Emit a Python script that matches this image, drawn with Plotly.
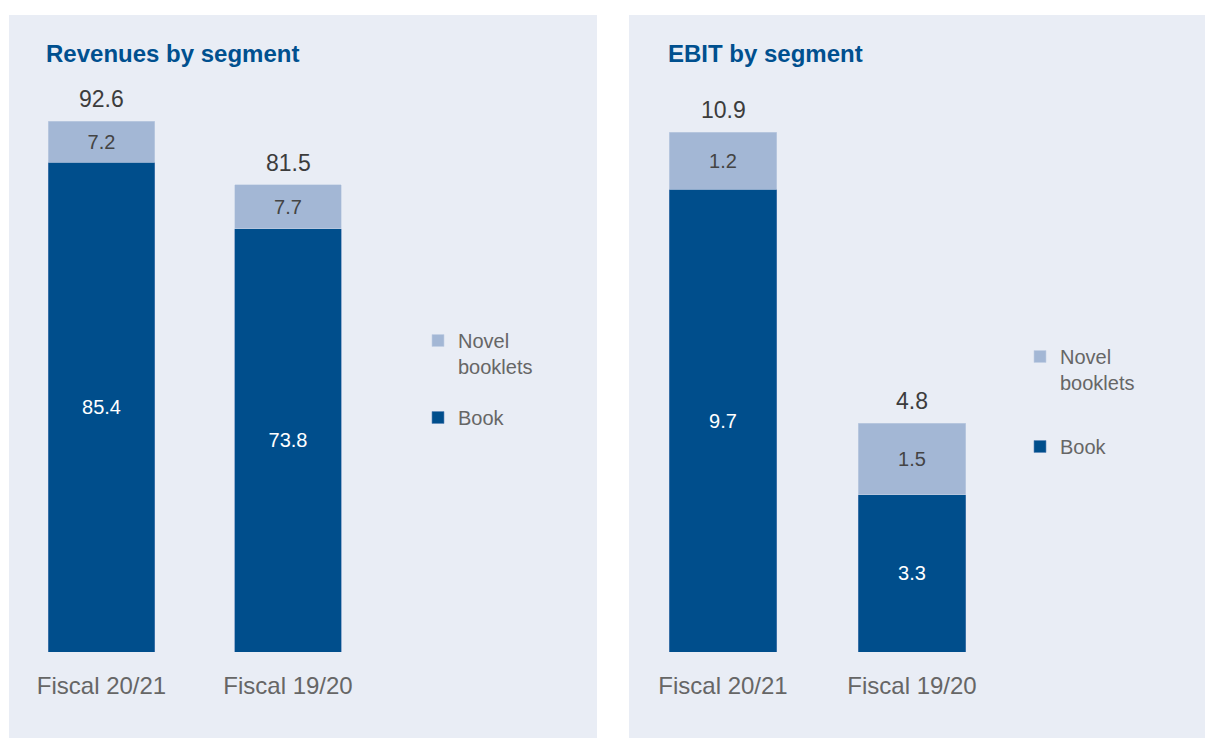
import plotly.graph_objects as go

categories = ["Fiscal 20/21", "Fiscal 19/20"]
rev_book = [85.4, 73.8]
rev_novel = [7.2, 7.7]
rev_total = [92.6, 81.5]
ebit_book = [9.7, 3.3]
ebit_novel = [1.2, 1.5]
ebit_total = [10.9, 4.8]
series_names = ["Book", "Novel<br>booklets"]
titles = ["Revenues by segment", "EBIT by segment"]

OFF = 0  # body margin removed by the post script
W, H = 1205 - OFF, 738 - OFF
DARK = "#004E8C"
LIGHT = "#A3B7D5"
PANEL = "#E9EDF5"
FONT = "Liberation Sans, Arial, sans-serif"

def px_x(p):
    return (p - OFF) / W

def px_y(p):
    return 1 - (p - OFF) / H

fig = go.Figure()

panels = [
    dict(x0=9, x1=597, xaxis="x", yaxis="y", legend="legend",
         book=rev_book, novel=rev_novel, total=rev_total),
    dict(x0=629, x1=1205, xaxis="x2", yaxis="y2", legend="legend2",
         book=ebit_book, novel=ebit_novel, total=ebit_total),
]

for i, p in enumerate(panels):
    fig.add_trace(go.Bar(
        x=categories, y=p["book"], name=series_names[0],
        marker=dict(color=DARK, line=dict(width=0.6, color="#5E86B8")),
        width=0.57, xaxis=p["xaxis"], yaxis=p["yaxis"], legend=p["legend"],
        legendgroup="book%d" % i, legendrank=2,
        texttemplate="%{y:.1f}", textposition="inside", insidetextanchor="middle",
        textangle=0, constraintext="none",
        insidetextfont=dict(color="white", size=20, family=FONT),
        hoverinfo="skip"))
    fig.add_trace(go.Bar(
        x=categories, y=p["novel"], name=series_names[1],
        marker=dict(color=LIGHT, line=dict(width=0.6, color="#C3D0E4")),
        width=0.57, xaxis=p["xaxis"], yaxis=p["yaxis"], legend=p["legend"],
        legendgroup="novel%d" % i, legendrank=1,
        texttemplate="%{y:.1f}", textposition="inside", insidetextanchor="middle",
        textangle=0, constraintext="none",
        insidetextfont=dict(color="#444444", size=20, family=FONT),
        hoverinfo="skip"))
    for c, t in zip(categories, p["total"]):
        fig.add_annotation(x=c, y=t, xref=p["xaxis"], yref=p["yaxis"],
                           text="%.1f" % t, showarrow=False, yanchor="bottom",
                           yshift=7, font=dict(size=23, color="#3C3C3C", family=FONT))

# panel backgrounds
shapes = []
for p in panels:
    shapes.append(dict(type="rect", xref="paper", yref="paper",
                       x0=px_x(p["x0"]), x1=min(1.0, px_x(p["x1"])), y0=0, y1=px_y(15),
                       fillcolor=PANEL, line=dict(width=0), layer="below"))

# titles
for tx, title in zip([44, 666], titles):
    fig.add_annotation(x=px_x(tx), y=px_y(53), xref="paper", yref="paper",
                       text="<b>" + title + "</b>",
                       showarrow=False, xanchor="left", yanchor="middle",
                       font=dict(size=24, color="#00508F", family=FONT))

# axis geometry (screen pixels)
l_unit = 288 - 101.5
l_r0 = -(101.5 - 9) / l_unit
l_r1 = l_r0 + (597 - 9) / l_unit
r_unit = 912 - 723
r_r0 = -(723 - 629) / r_unit
r_r1 = r_r0 + (1205 - 629) / r_unit

ydom = [px_y(652), px_y(15)]
ypx = 652 - 15
common_x = dict(showgrid=False, zeroline=False, showline=False, ticks="outside",
                ticklen=12, tickcolor="rgba(0,0,0,0)",
                tickfont=dict(size=24, color="#666666", family=FONT), fixedrange=True)
common_y = dict(visible=False, showgrid=False, zeroline=False, fixedrange=True)

legend_common = dict(font=dict(size=20, color="#666666", family=FONT),
                     traceorder="grouped", valign="top",
                     bgcolor="rgba(0,0,0,0)", xanchor="left", yanchor="top",
                     itemclick=False, itemdoubleclick=False)

fig.update_layout(
    width=W, height=H, margin=dict(l=0, r=0, t=0, b=0),
    paper_bgcolor="white", plot_bgcolor="rgba(0,0,0,0)",
    barmode="stack", shapes=shapes, font=dict(family=FONT),
    xaxis=dict(domain=[px_x(9), px_x(597)], range=[l_r0, l_r1], anchor="y", **common_x),
    yaxis=dict(domain=ydom, range=[0, ypx / (531 / 92.6)], anchor="x", **common_y),
    xaxis2=dict(domain=[px_x(629), 1.0], range=[r_r0, r_r1], anchor="y2", **common_x),
    yaxis2=dict(domain=ydom, range=[0, ypx / (520 / 10.9)], anchor="x2", **common_y),
    legend=dict(x=px_x(418), y=px_y(321), tracegroupgap=22, **legend_common),
    legend2=dict(x=px_x(1020), y=px_y(337), tracegroupgap=35, **legend_common),
)

# page: no body margin and no scrollbars so the figure fills the window
fig.write_html("out.html",
               config={"displayModeBar": False},
               post_script="document.body.style.margin='0';"
                           "document.documentElement.style.overflow='hidden';"
                           "document.body.style.overflow='hidden';")
